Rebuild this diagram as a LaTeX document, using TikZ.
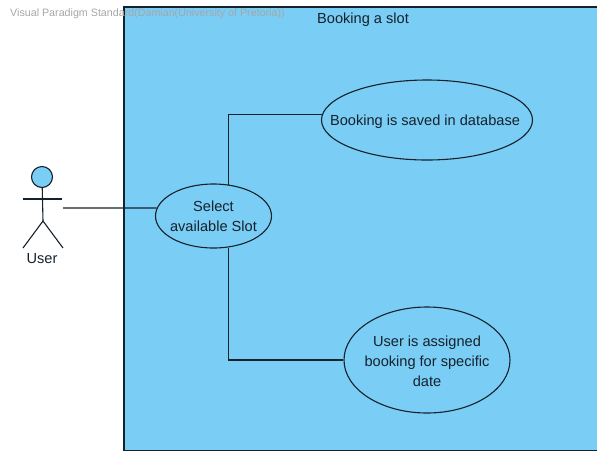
\documentclass[tikz,border=0pt]{standalone}
\usepackage{fontspec}
\setmainfont{Liberation Sans}
\usetikzlibrary{shapes.geometric}
\definecolor{boxblue}{HTML}{7ACDF5}
\definecolor{inkline}{HTML}{15222C}
\tikzset{
  usecase/.style={draw=inkline, ellipse, fill=boxblue, line width=1.1pt, inner sep=-30pt, align=center, text=inkline, font=\fontsize{14.6}{20}\selectfont},
  limb/.style={draw=inkline, line width=1.1pt},
  link/.style={draw=inkline, line width=1.1pt}
}
\begin{document}
\begin{tikzpicture}[x=1pt, y=-1pt]
  \useasboundingbox (0,0) rectangle (597,451);
  % system boundary
  \fill[boxblue] (124,7) rectangle (597,450.5);
  \draw[limb] (597,7) -- (124,7) -- (124,450.5) -- (597,450.5);
  \node[text=inkline, font=\fontsize{14.6}{16}\selectfont] (title) at (363,19.5) {Booking a slot};
  \node[text=gray!70, font=\fontsize{10.7}{11}\selectfont, anchor=west, inner sep=0pt] (mark) at (10,14) {Visual Paradigm Standard(Damian(University of Pretoria))};
  % actor
  \node[circle, draw=inkline, fill=boxblue, line width=1.1pt, minimum size=21pt, inner sep=0pt] (head) at (42,177) {};
  \coordinate (hip) at (43,221);
  \coordinate (armL) at (23,199);
  \coordinate (armR) at (62,199);
  \coordinate (legL) at (23,248);
  \coordinate (legR) at (63,248);
  \coordinate (hand) at (63,208);
  \draw[limb] (head) -- (hip);
  \draw[limb] (armL) -- (armR);
  \draw[limb] (legL) -- (hip) -- (legR);
  \node[text=inkline, font=\fontsize{14.6}{16}\selectfont] (user) at (42,259) {User};
  % use cases
  \node[usecase, minimum width=116pt, minimum height=64pt] (slot) at (213.5,216) {Select\\available Slot};
  \node[usecase, minimum width=211pt, minimum height=80pt] (saved) at (427,120) {\rule{0pt}{15pt}Booking is saved in database\hspace{4pt}};
  \node[usecase, minimum width=166pt, minimum height=106pt] (assigned) at (427,360) {\rule{0pt}{13pt}User is assigned\\booking for specific\\date};
  % connectors
  \draw[link] (hand) -- (slot.172);
  \draw[link] (slot.65) |- (saved.177.5);
  \draw[link] (slot.-65) |- (assigned.west);
\end{tikzpicture}
\end{document}
